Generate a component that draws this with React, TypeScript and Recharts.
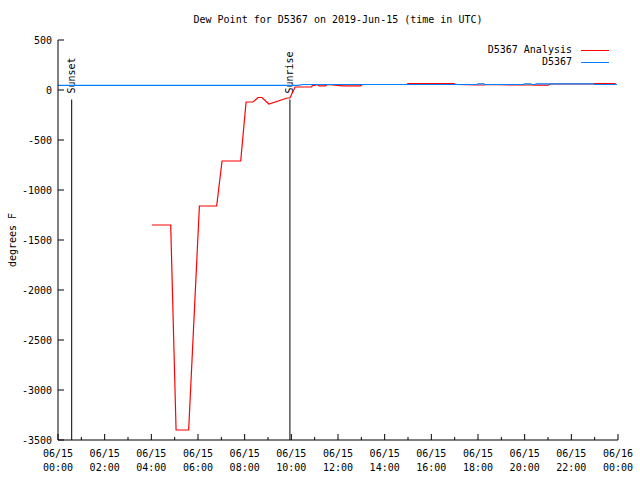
import { LineChart, Line, XAxis, YAxis, ReferenceLine } from "recharts"

// hours since 06/15 00:00 UTC
const analysisHours = [
  4.03, 4.83, 5.06, 5.6, 6.06, 6.8, 7.03, 7.83, 8.06, 8.36, 8.57, 8.74, 9.04, 9.82, 9.94,
  10.16, 10.87, 10.9, 11.0, 11.1, 11.2, 11.45, 11.55, 12.2, 12.95, 13.05, 14.95, 15.0, 16.97,
  17.05, 18.0, 18.26, 18.35, 20.0, 20.27, 20.5, 21.0, 21.1, 22.95, 23.0, 23.9,
]
const analysisValues = [
  -1350, -1350, -3400, -3400, -1160, -1160, -710, -710, -120, -120, -75, -75, -140, -80, -80,
  30, 32, 45, 45, 55, 42, 42, 55, 42, 42, 55, 55, 65, 65,
  55, 50, 50, 55, 50, 50, 48, 48, 60, 60, 65, 65,
]

const obsHours = [0, 10.3, 10.5, 17.95, 18.0, 18.25, 18.3, 19.95, 20.0, 20.25, 20.3, 20.45, 20.5, 22.95, 23.0, 23.95]
const obsValues = [47, 47, 55, 55, 62, 62, 55, 55, 62, 62, 55, 55, 62, 62, 55, 55]

const eventHours = [0.587, 9.94]
const eventNames = ["Sunset", "Sunrise"]
const eventTop = -95

const xTicks = [0, 1, 2, 3, 4, 5, 6, 7, 8, 9, 10, 11, 12, 13, 14, 15, 16, 17, 18, 19, 20, 21, 22, 23, 24]
const yTicks = [-3500, -3000, -2500, -2000, -1500, -1000, -500, 0, 500]

const FONT = "'DejaVu Sans Mono', monospace"
const PLOT_TOP = 40
const PLOT_BOTTOM = 440
const PLOT_LEFT = 58
const PLOT_RIGHT = 618

const analysisData = analysisHours.map((h, i) => ({ h, v: analysisValues[i] }))
const obsData = obsHours.map((h, i) => ({ h, v: obsValues[i] }))

const pad = (n: number) => (n < 10 ? `0${n}` : `${n}`)

const BottomTick = ({ x, payload }: any) => {
  const h = payload.value
  const major = h % 2 === 0
  const day = h >= 24 ? "06/16" : "06/15"
  return (
    <g>
      <line x1={x} x2={x} y1={PLOT_BOTTOM} y2={PLOT_BOTTOM - (major ? 6 : 3)} stroke="#000" />
      {major && (
        <text x={x} y={457} textAnchor="middle" fontSize={10} fontFamily={FONT} fill="#000">
          <tspan x={x}>{day}</tspan>
          <tspan x={x} dy={14}>{`${pad(h % 24)}:00`}</tspan>
        </text>
      )}
    </g>
  )
}

const TopTick = ({ x, payload }: any) => {
  const major = payload.value % 2 === 0
  return <line x1={x} x2={x} y1={PLOT_TOP} y2={PLOT_TOP + (major ? 6 : 3)} stroke="#000" />
}

const LeftTick = ({ y, payload }: any) => (
  <g>
    <line x1={PLOT_LEFT} x2={PLOT_LEFT + 6} y1={y} y2={y} stroke="#000" />
    <text x={52} y={y} dy="0.35em" textAnchor="end" fontSize={10} fontFamily={FONT} fill="#000">
      {payload.value}
    </text>
  </g>
)

const RightTick = ({ y }: any) => <line x1={PLOT_RIGHT} x2={PLOT_RIGHT - 6} y1={y} y2={y} stroke="#000" />

const eventLabel = (name: string) => (props: any) => {
  const vb = props.viewBox || {}
  const x = vb.x
  const y = vb.y - 6
  return (
    <text
      x={x}
      y={y}
      dy="0.35em"
      transform={`rotate(-90, ${x}, ${y})`}
      fontSize={10}
      fontFamily={FONT}
      fill="#000"
    >
      {name}
    </text>
  )
}

const YLabel = () => (
  <text
    x={12}
    y={(PLOT_TOP + PLOT_BOTTOM) / 2}
    dy="0.35em"
    textAnchor="middle"
    transform={`rotate(-90, 12, ${(PLOT_TOP + PLOT_BOTTOM) / 2})`}
    fontSize={10}
    fontFamily={FONT}
    fill="#000"
  >
    degrees F
  </text>
)

export default function App() {
  return (
    <div style={{ position: "absolute", left: 0, top: 0, width: 640, height: 480, background: "#fff", fontFamily: FONT }}>
      <div style={{ position: "absolute", top: 14, left: 0, width: 676, textAlign: "center", fontSize: 10 }}>
        Dew Point for D5367 on 2019-Jun-15 (time in UTC)
      </div>
      <LineChart width={640} height={480} margin={{ top: PLOT_TOP, right: 640 - PLOT_RIGHT, bottom: 0, left: 0 }}>
        <XAxis
          xAxisId="bottom"
          type="number"
          dataKey="h"
          domain={[0, 24]}
          ticks={xTicks}
          interval={0}
          height={480 - PLOT_BOTTOM}
          stroke="#000"
          tickLine={false}
          tick={<BottomTick />}
          allowDataOverflow
        />
        <XAxis
          xAxisId="top"
          orientation="top"
          type="number"
          dataKey="h"
          domain={[0, 24]}
          ticks={xTicks}
          interval={0}
          height={0}
          stroke="#000"
          tickLine={false}
          tick={<TopTick />}
          allowDataOverflow
        />
        <YAxis
          yAxisId="left"
          type="number"
          domain={[-3500, 500]}
          ticks={yTicks}
          interval={0}
          width={PLOT_LEFT}
          stroke="#000"
          tickLine={false}
          tick={<LeftTick />}
          allowDataOverflow
          label={<YLabel />}
        />
        <YAxis
          yAxisId="right"
          orientation="right"
          type="number"
          domain={[-3500, 500]}
          ticks={yTicks}
          interval={0}
          width={0}
          stroke="#000"
          tickLine={false}
          tick={<RightTick />}
          allowDataOverflow
        />
        {eventHours.map((h, i) => (
          <ReferenceLine
            key={eventNames[i]}
            xAxisId="bottom"
            yAxisId="left"
            segment={[
              { x: h, y: eventTop },
              { x: h, y: -3500 },
            ]}
            stroke="#000"
            strokeWidth={1}
            label={eventLabel(eventNames[i])}
          />
        ))}
        <Line
          xAxisId="bottom"
          yAxisId="left"
          data={analysisData}
          dataKey="v"
          type="linear"
          stroke="#ff0000"
          strokeWidth={1.2}
          dot={false}
          isAnimationActive={false}
        />
        <Line
          xAxisId="top"
          yAxisId="right"
          data={obsData}
          dataKey="v"
          type="linear"
          stroke="#0080ff"
          strokeWidth={1.2}
          dot={false}
          isAnimationActive={false}
        />
      </LineChart>
      <div style={{ position: "absolute", top: 44, right: 640 - 609, fontSize: 10, lineHeight: "12px" }}>
        {[
          { name: "D5367 Analysis", color: "#ff0000" },
          { name: "D5367", color: "#0080ff" },
        ].map((s) => (
          <div key={s.name} style={{ display: "flex", justifyContent: "flex-end", alignItems: "center", height: 12 }}>
            <span>{s.name}</span>
            <span style={{ display: "inline-block", width: 28, marginLeft: 9, borderTop: `1.5px solid ${s.color}` }} />
          </div>
        ))}
      </div>
    </div>
  )
}
